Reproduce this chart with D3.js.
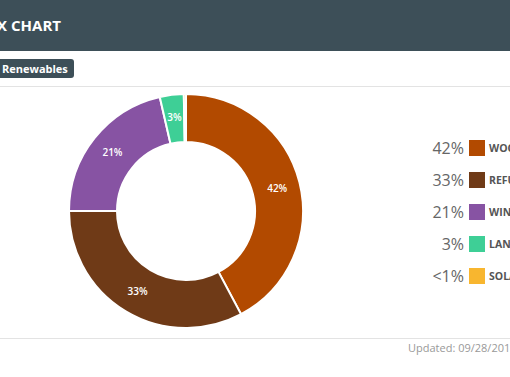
<!DOCTYPE html>
<html>
<head>
<meta charset="utf-8">
<script src="https://cdn.jsdelivr.net/npm/d3@7"></script>
<style>
  body { margin: 0; background: #fff; font-family: 'Open Sans', sans-serif; }
  svg { display: block; }
</style>
</head>
<body>
<svg id="chart" width="510" height="377"></svg>
<script>
var fuels = [ 'Wood', 'Refuse', 'Wind', 'Landfill Gas', 'Solar' ],
  shares = [ 42.2, 32.8, 21.4, 3.3, 0.3 ],
  shareLabels = [ '42%', '33%', '21%', '3%', '<1%' ],
  colors = [ '#b24a00', '#6f3a17', '#8753a3', '#3ecf96', '#f8b62f' ];

var svg = d3.select( '#chart' ),
  width = +svg.attr( 'width' ),
  height = +svg.attr( 'height' );

var data = fuels.map( ( f, i ) => ( { name: f, value: shares[ i ], label: shareLabels[ i ] } ) );

var z = d3.scaleOrdinal().domain( fuels ).range( colors );

/* Header */

svg.append( 'rect' )
  .attr( 'x', 0 ).attr( 'y', 0 )
  .attr( 'width', width ).attr( 'height', 51 )
  .style( 'fill', '#3d4f58' );

svg.append( 'text' )
  .attr( 'x', 61 ).attr( 'y', 31 )
  .attr( 'text-anchor', 'end' )
  .style( 'font-size', 15 )
  .style( 'font-weight', 'bold' )
  .style( 'fill', '#fff' )
  .text( 'FUEL MIX CHART' );

/* Tab */

svg.append( 'rect' )
  .attr( 'x', -10 ).attr( 'y', 59 )
  .attr( 'width', 84 ).attr( 'height', 19 )
  .attr( 'rx', 3 )
  .style( 'fill', '#3d4f58' );

svg.append( 'text' )
  .attr( 'x', 2 ).attr( 'y', 73 )
  .style( 'font-size', 11 )
  .style( 'font-weight', 'bold' )
  .style( 'fill', '#fff' )
  .text( 'Renewables' );

svg.append( 'line' )
  .attr( 'x1', 0 ).attr( 'x2', width )
  .attr( 'y1', 86.5 ).attr( 'y2', 86.5 )
  .style( 'stroke', '#e3e3e3' );

svg.append( 'line' )
  .attr( 'x1', 0 ).attr( 'x2', width )
  .attr( 'y1', 338.5 ).attr( 'y2', 338.5 )
  .style( 'stroke', '#e3e3e3' );

svg.append( 'text' )
  .attr( 'x', 408 ).attr( 'y', 352 )
  .style( 'font-size', 11 )
  .style( 'fill', '#999' )
  .text( 'Updated: 09/28/2017' );

/* Donut */

var cx = 186, cy = 211, outerR = 117, innerR = 69;

var pie = d3.pie().sort( null ).value( d => d.value );

var arc = d3.arc().innerRadius( innerR ).outerRadius( outerR );
var labelArc = d3.arc().innerRadius( 94 ).outerRadius( 94 );

var donut = svg.append( 'g' )
  .attr( 'transform', 'translate(' + cx + ',' + cy + ')' );

var slices = donut.selectAll( '.slice' )
  .data( pie( data ) )
  .enter().append( 'g' )
    .attr( 'class', 'slice' );

slices.append( 'path' )
  .attr( 'd', arc )
  .style( 'fill', d => z( d.data.name ) )
  .style( 'stroke', '#fff' )
  .style( 'stroke-width', 2 );

slices.filter( d => d.data.value >= 2 ).append( 'text' )
  .attr( 'transform', d => 'translate(' + labelArc.centroid( d ) + ')' )
  .attr( 'text-anchor', 'middle' )
  .attr( 'dy', '0.35em' )
  .style( 'font-size', 10 )
  .style( 'font-weight', 600 )
  .style( 'fill', '#fff' )
  .text( d => d.data.label );

/* Legend */

var y = d3.scalePoint()
  .domain( fuels )
  .range( [ 148, 276 ] );

var legend = svg.append( 'g' )
  .attr( 'class', 'legend' );

var rows = legend.selectAll( 'g' )
  .data( data )
  .enter().append( 'g' )
    .attr( 'transform', d => 'translate(0,' + y( d.name ) + ')' );

rows.append( 'text' )
  .attr( 'x', 464 )
  .attr( 'dy', '0.35em' )
  .attr( 'text-anchor', 'end' )
  .style( 'font-size', 16 )
  .style( 'fill', '#666' )
  .text( d => d.label );

rows.append( 'rect' )
  .attr( 'x', 469 )
  .attr( 'y', -8 )
  .attr( 'width', 16 )
  .attr( 'height', 16 )
  .style( 'fill', d => z( d.name ) );

rows.append( 'text' )
  .attr( 'x', 489 )
  .attr( 'dy', '0.35em' )
  .style( 'font-size', 10.5 )
  .style( 'font-weight', 'bold' )
  .style( 'fill', '#555' )
  .text( d => d.name.toUpperCase() );
</script>
</body>
</html>
